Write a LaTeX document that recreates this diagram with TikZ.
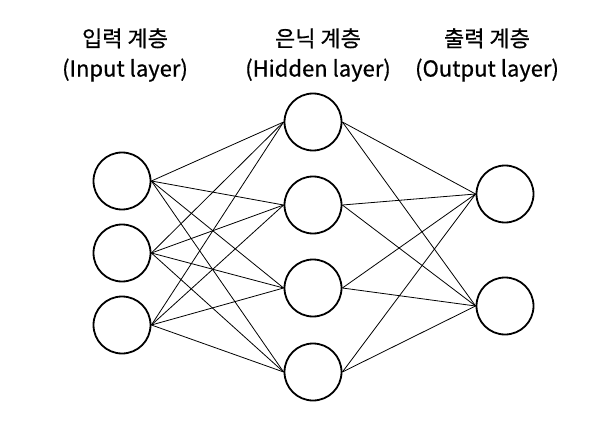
\documentclass[tikz,border=0pt]{standalone}
\usepackage{fontspec}
\setmainfont{Noto Sans CJK KR}[FakeBold=0.6]
\begin{document}
\begin{tikzpicture}[x=1pt,y=-1pt,
  neuron/.style={circle,draw=black,line width=1.8pt,minimum size=57pt,inner sep=0pt},
  conn/.style={draw=black,line width=0.8pt},
  lbl/.style={align=center,font=\fontsize{22}{30}\selectfont,text=black}]
\useasboundingbox[fill=white] (0,0) rectangle (602,422);
\node[neuron] (i1) at (122,181) {};
\node[neuron] (i2) at (122,253) {};
\node[neuron] (i3) at (122,325) {};
\node[neuron] (h1) at (313,122) {};
\node[neuron] (h2) at (313,205) {};
\node[neuron] (h3) at (313,288) {};
\node[neuron] (h4) at (313,372) {};
\node[neuron] (o1) at (505,194) {};
\node[neuron] (o2) at (505,306) {};
\foreach \i in {i1,i2,i3}{\foreach \h in {h1,h2,h3,h4}{\draw[conn] (\i.east) -- (\h.west);}}
\foreach \h in {h1,h2,h3,h4}{\foreach \o in {o1,o2}{\draw[conn] (\h.east) -- (\o.west);}}
\node[lbl] (t1) at (125,55) {입력 계층\\(Input layer)};
\node[lbl] (t2) at (318,55) {은닉 계층\\(Hidden layer)};
\node[lbl] (t3) at (487,55) {출력 계층\\(Output layer)};
\end{tikzpicture}
\end{document}
